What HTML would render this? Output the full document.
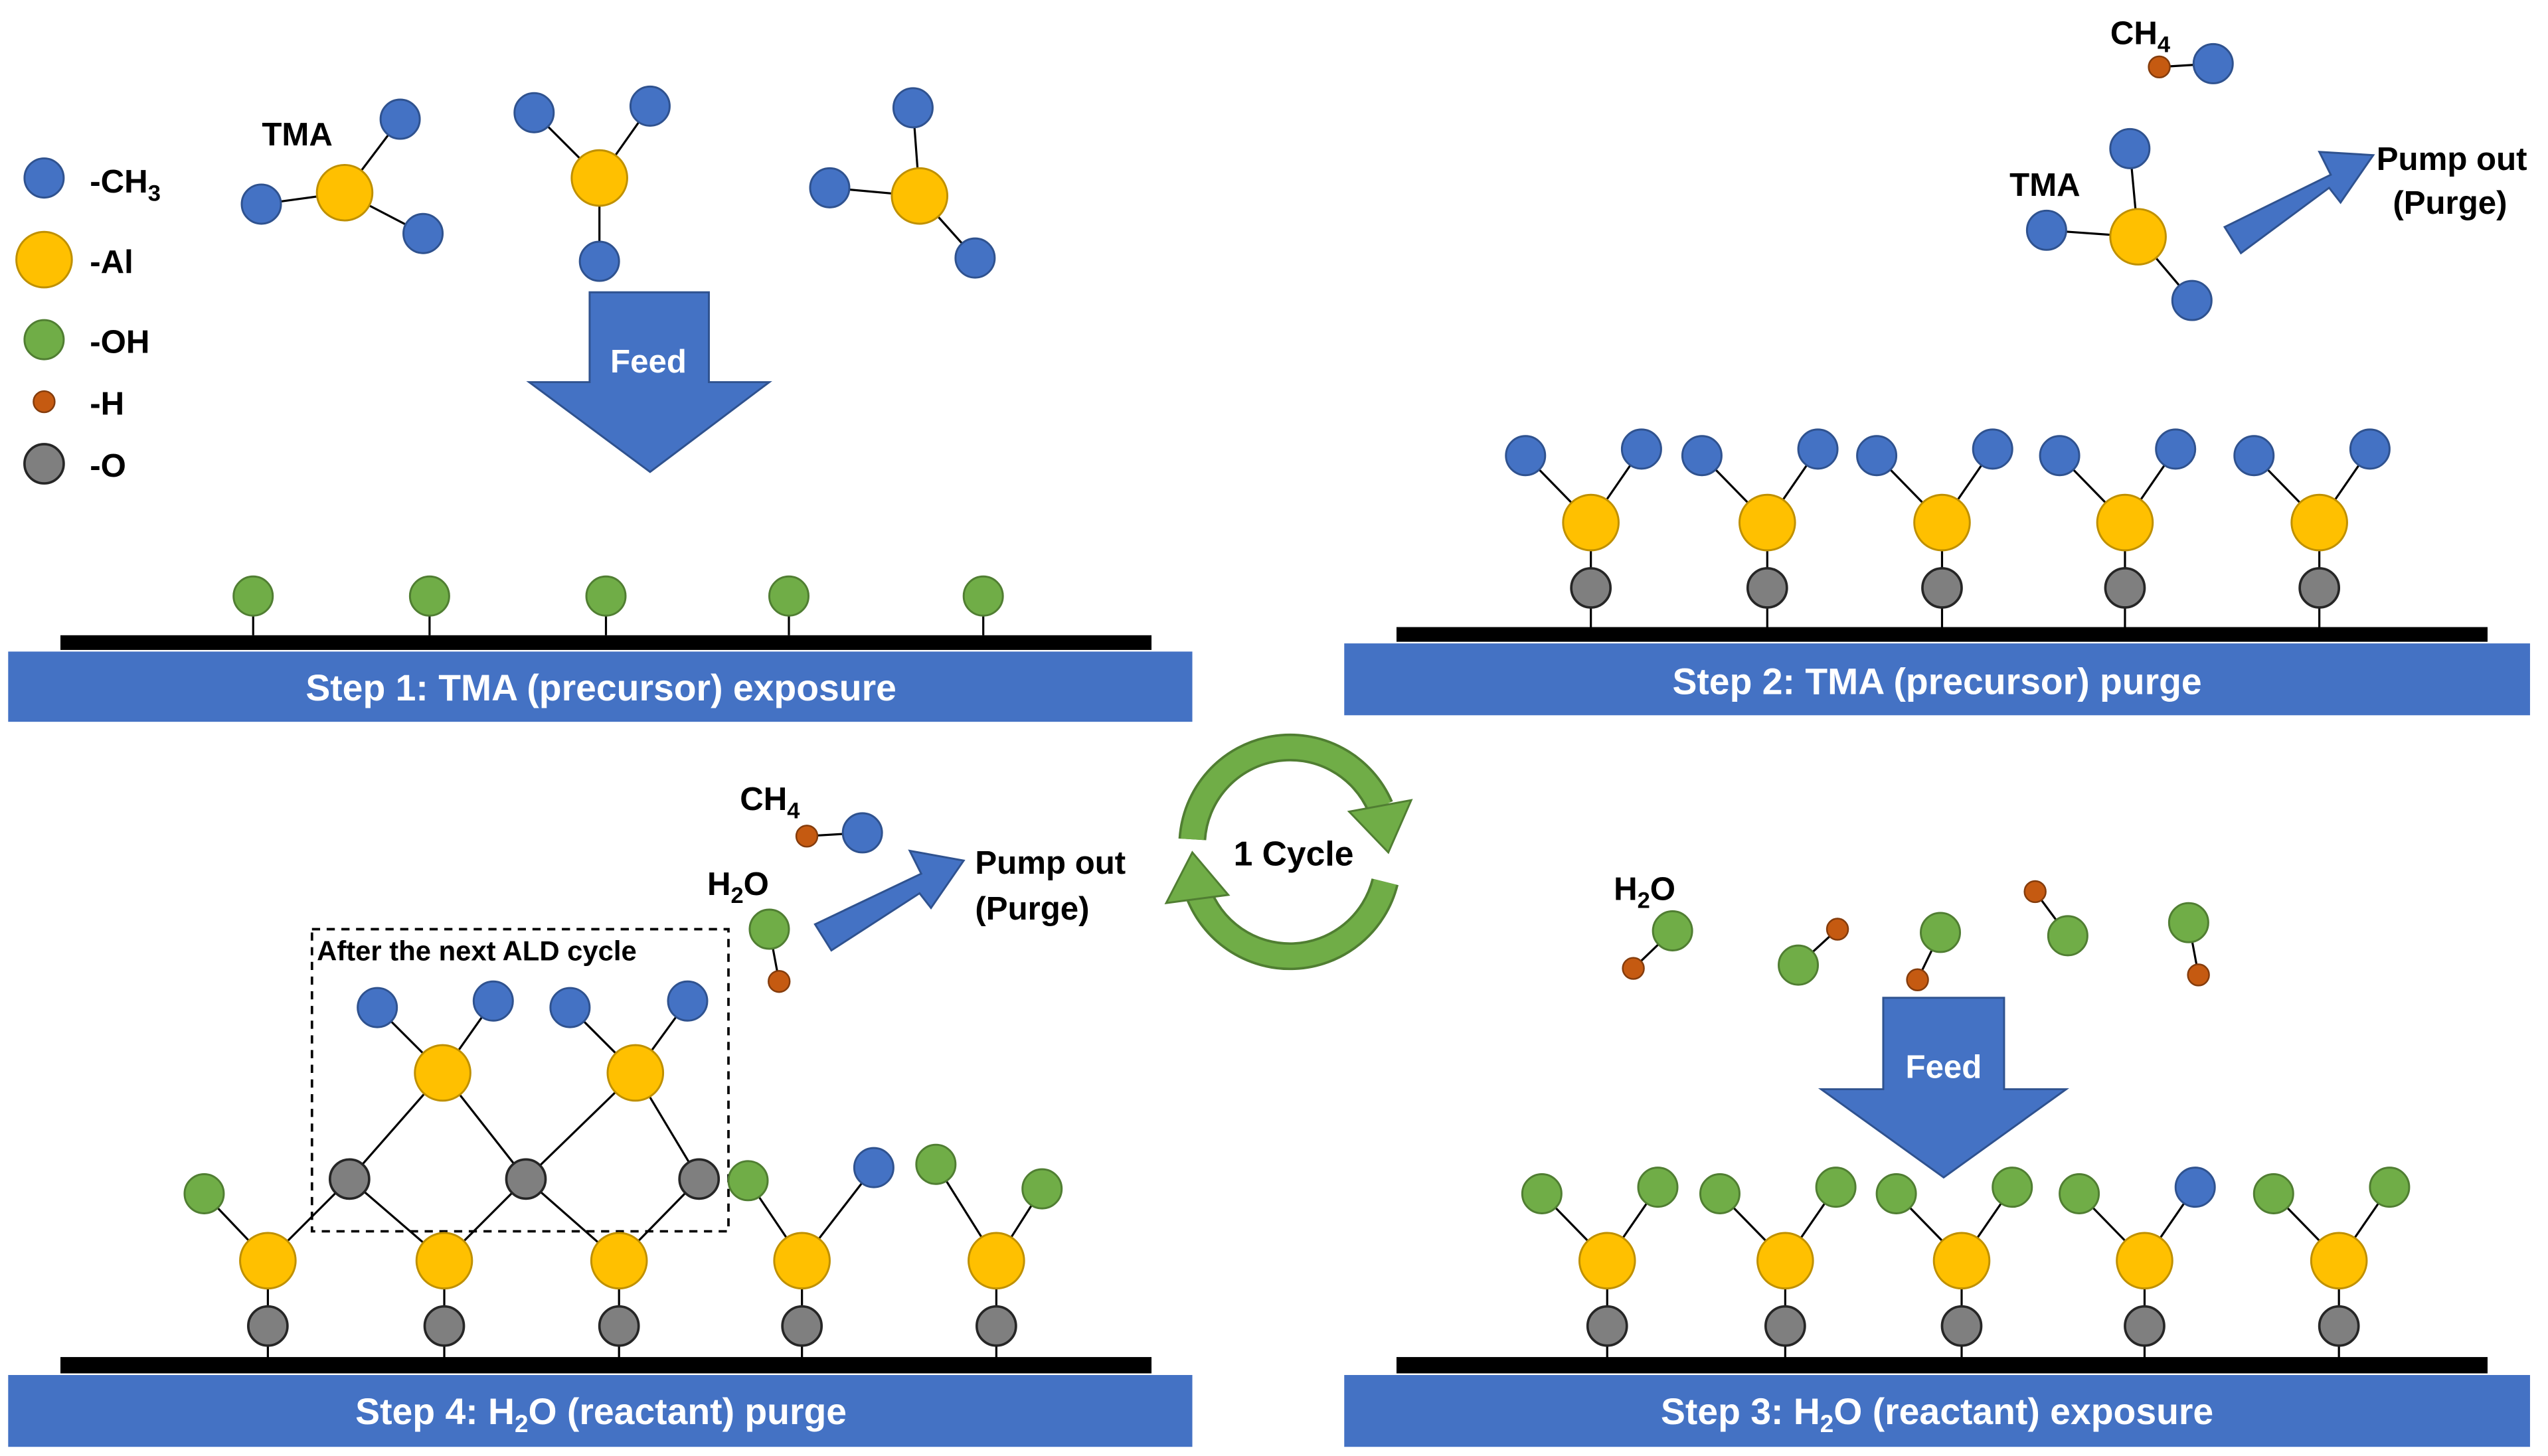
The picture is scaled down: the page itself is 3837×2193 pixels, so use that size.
<!DOCTYPE html>
<html><head><meta charset="utf-8"><style>
html,body{margin:0;padding:0;background:#fff;}
svg{display:block;}
text{font-family:"Liberation Sans",Arial,sans-serif;font-weight:bold;}
</style></head><body>
<svg width="3837" height="2193" viewBox="0 0 1560 891.6" preserveAspectRatio="none" xmlns="http://www.w3.org/2000/svg">
<defs>
<g id="b"><circle r="12" fill="#4472C4" stroke="#2F528F" stroke-width="1.2"/></g>
<g id="y"><circle r="17" fill="#FFC000" stroke="#BF9000" stroke-width="1.2"/></g>
<g id="g"><circle r="12" fill="#70AD47" stroke="#507E32" stroke-width="1.2"/></g>
<g id="o"><circle r="6.5" fill="#C55A11" stroke="#843C0C" stroke-width="1"/></g>
<g id="k"><circle r="12" fill="#7F7F7F" stroke="#262626" stroke-width="1.5"/></g>
</defs>
<rect width="1560" height="892" fill="#fff"/>
<use href="#b" x="27" y="109"/><text x="55" y="118" font-size="20">-CH<tspan font-size="14" dy="5">3</tspan></text>
<use href="#y" x="27" y="159"/><text x="55" y="167" font-size="20">-Al</text>
<use href="#g" x="27" y="208"/><text x="55" y="216" font-size="20">-OH</text>
<use href="#o" x="27" y="246"/><text x="55" y="254" font-size="20">-H</text>
<use href="#k" x="27" y="284"/><text x="55" y="292" font-size="20">-O</text>

<!-- Step1 -->
<rect x="37" y="389" width="668" height="9" fill="#000"/>
<rect x="5" y="399" width="725" height="43" fill="#4472C4"/>
<text x="368" y="429" font-size="22.5" fill="#fff" text-anchor="middle">Step 1: TMA (precursor) exposure</text>
<g stroke="#000" stroke-width="1.3">
<line x1="155" y1="365" x2="155" y2="389"/><line x1="263" y1="365" x2="263" y2="389"/><line x1="371" y1="365" x2="371" y2="389"/><line x1="483" y1="365" x2="483" y2="389"/><line x1="602" y1="365" x2="602" y2="389"/>
<line x1="211" y1="118" x2="245" y2="73"/><line x1="211" y1="118" x2="160" y2="125"/><line x1="211" y1="118" x2="259" y2="143"/>
<line x1="367" y1="109" x2="327" y2="69"/><line x1="367" y1="109" x2="398" y2="65"/><line x1="367" y1="109" x2="367" y2="160"/>
<line x1="563" y1="120" x2="559" y2="66"/><line x1="563" y1="120" x2="508" y2="115"/><line x1="563" y1="120" x2="597" y2="158"/>
</g>
<use href="#g" x="155" y="365"/><use href="#g" x="263" y="365"/><use href="#g" x="371" y="365"/><use href="#g" x="483" y="365"/><use href="#g" x="602" y="365"/>
<use href="#b" x="245" y="73"/><use href="#b" x="160" y="125"/><use href="#b" x="259" y="143"/><use href="#y" x="211" y="118"/>
<use href="#b" x="327" y="69"/><use href="#b" x="398" y="65"/><use href="#b" x="367" y="160"/><use href="#y" x="367" y="109"/>
<use href="#b" x="559" y="66"/><use href="#b" x="508" y="115"/><use href="#b" x="597" y="158"/><use href="#y" x="563" y="120"/>
<text x="182" y="89" font-size="20" text-anchor="middle">TMA</text>
<polygon points="361,179 434,179 434,234 471,234 398,289 324,234 361,234" fill="#4472C4" stroke="#2F528F" stroke-width="1.2"/>
<text x="397" y="228" font-size="20" fill="#fff" text-anchor="middle">Feed</text>

<!-- Step2 -->
<rect x="855" y="384" width="668" height="9" fill="#000"/>
<rect x="823" y="394" width="726" height="44" fill="#4472C4"/>
<text x="1186" y="425" font-size="22.5" fill="#fff" text-anchor="middle">Step 2: TMA (precursor) purge</text>
<g stroke="#000" stroke-width="1.3">
<line x1="974" y1="360" x2="974" y2="384"/><line x1="974" y1="360" x2="974" y2="320"/><line x1="974" y1="320" x2="934" y2="279"/><line x1="974" y1="320" x2="1005" y2="275"/>
<line x1="1082" y1="360" x2="1082" y2="384"/><line x1="1082" y1="360" x2="1082" y2="320"/><line x1="1082" y1="320" x2="1042" y2="279"/><line x1="1082" y1="320" x2="1113" y2="275"/>
<line x1="1189" y1="360" x2="1189" y2="384"/><line x1="1189" y1="360" x2="1189" y2="320"/><line x1="1189" y1="320" x2="1149" y2="279"/><line x1="1189" y1="320" x2="1220" y2="275"/>
<line x1="1301" y1="360" x2="1301" y2="384"/><line x1="1301" y1="360" x2="1301" y2="320"/><line x1="1301" y1="320" x2="1261" y2="279"/><line x1="1301" y1="320" x2="1332" y2="275"/>
<line x1="1420" y1="360" x2="1420" y2="384"/><line x1="1420" y1="360" x2="1420" y2="320"/><line x1="1420" y1="320" x2="1380" y2="279"/><line x1="1420" y1="320" x2="1451" y2="275"/>
<line x1="1322" y1="41" x2="1355" y2="39"/>
<line x1="1309" y1="145" x2="1304" y2="91"/><line x1="1309" y1="145" x2="1253" y2="141"/><line x1="1309" y1="145" x2="1342" y2="184"/>
</g>
<use href="#k" x="974" y="360"/><use href="#y" x="974" y="320"/><use href="#b" x="934" y="279"/><use href="#b" x="1005" y="275"/>
<use href="#k" x="1082" y="360"/><use href="#y" x="1082" y="320"/><use href="#b" x="1042" y="279"/><use href="#b" x="1113" y="275"/>
<use href="#k" x="1189" y="360"/><use href="#y" x="1189" y="320"/><use href="#b" x="1149" y="279"/><use href="#b" x="1220" y="275"/>
<use href="#k" x="1301" y="360"/><use href="#y" x="1301" y="320"/><use href="#b" x="1261" y="279"/><use href="#b" x="1332" y="275"/>
<use href="#k" x="1420" y="360"/><use href="#y" x="1420" y="320"/><use href="#b" x="1380" y="279"/><use href="#b" x="1451" y="275"/>
<use href="#o" x="1322" y="41"/><use href="#b" x="1355" y="39"/>
<text x="1292" y="27" font-size="20">CH<tspan font-size="14" dy="5">4</tspan></text>
<use href="#b" x="1304" y="91"/><use href="#b" x="1253" y="141"/><use href="#b" x="1342" y="184"/><use href="#y" x="1309" y="145"/>
<text x="1252" y="120" font-size="20" text-anchor="middle">TMA</text>
<polygon points="1362,139 1427,107 1420,93 1453,95 1433,124 1426,115 1372,155" fill="#4472C4" stroke="#2F528F" stroke-width="1.2"/>
<text x="1455" y="104" font-size="20">Pump out</text>
<text x="1465" y="131" font-size="20">(Purge)</text>

<!-- Cycle -->
<g fill="none" stroke-linecap="butt">
<path d="M730,514 A60,60 0 0 1 845,494" stroke="#507E32" stroke-width="17"/>
<path d="M730,514 A60,60 0 0 1 845,494" stroke="#70AD47" stroke-width="14"/>
<path d="M848,540 A60,60 0 0 1 733,545" stroke="#507E32" stroke-width="17"/>
<path d="M848,540 A60,60 0 0 1 733,545" stroke="#70AD47" stroke-width="14"/>
</g>
<polygon points="826,497 864,490 850,522" fill="#70AD47" stroke="#507E32" stroke-width="1.2"/>
<polygon points="752,548 714,553 730,522" fill="#70AD47" stroke="#507E32" stroke-width="1.2"/>
<text x="792" y="530" font-size="21" text-anchor="middle">1 Cycle</text>

<!-- Step4 -->
<rect x="37" y="831" width="668" height="10" fill="#000"/>
<rect x="5" y="842" width="725" height="44" fill="#4472C4"/>
<text x="368" y="872" font-size="22.5" fill="#fff" text-anchor="middle">Step 4: H<tspan font-size="15" dy="5">2</tspan><tspan dy="-5">O (reactant) purge</tspan></text>
<g stroke="#000" stroke-width="1.3">
<line x1="164" y1="772" x2="164" y2="831"/><line x1="272" y1="772" x2="272" y2="831"/><line x1="379" y1="772" x2="379" y2="831"/><line x1="491" y1="772" x2="491" y2="831"/><line x1="610" y1="772" x2="610" y2="831"/>
<line x1="164" y1="772" x2="125" y2="731"/><line x1="164" y1="772" x2="214" y2="722"/>
<line x1="272" y1="772" x2="214" y2="722"/><line x1="272" y1="772" x2="322" y2="722"/>
<line x1="379" y1="772" x2="322" y2="722"/><line x1="379" y1="772" x2="428" y2="722"/>
<line x1="491" y1="772" x2="458" y2="723"/><line x1="491" y1="772" x2="535" y2="715"/>
<line x1="610" y1="772" x2="573" y2="713"/><line x1="610" y1="772" x2="638" y2="728"/>
<line x1="271" y1="657" x2="214" y2="722"/><line x1="271" y1="657" x2="322" y2="722"/>
<line x1="389" y1="657" x2="322" y2="722"/><line x1="389" y1="657" x2="428" y2="722"/>
<line x1="271" y1="657" x2="231" y2="617"/><line x1="271" y1="657" x2="302" y2="613"/>
<line x1="389" y1="657" x2="349" y2="617"/><line x1="389" y1="657" x2="421" y2="613"/>
<line x1="494" y1="512" x2="528" y2="510"/><line x1="471" y1="569" x2="477" y2="601"/>
</g>
<rect x="191" y="569" width="255" height="185" fill="none" stroke="#000" stroke-width="1.5" stroke-dasharray="5,4"/>
<text x="194" y="588" font-size="17">After the next ALD cycle</text>
<use href="#k" x="164" y="812"/><use href="#k" x="272" y="812"/><use href="#k" x="379" y="812"/><use href="#k" x="491" y="812"/><use href="#k" x="610" y="812"/>
<use href="#g" x="125" y="731"/><use href="#g" x="458" y="723"/><use href="#b" x="535" y="715"/><use href="#g" x="573" y="713"/><use href="#g" x="638" y="728"/>
<use href="#k" x="214" y="722"/><use href="#k" x="322" y="722"/><use href="#k" x="428" y="722"/>
<use href="#y" x="164" y="772"/><use href="#y" x="272" y="772"/><use href="#y" x="379" y="772"/><use href="#y" x="491" y="772"/><use href="#y" x="610" y="772"/>
<use href="#b" x="231" y="617"/><use href="#b" x="302" y="613"/><use href="#b" x="349" y="617"/><use href="#b" x="421" y="613"/>
<use href="#y" x="271" y="657"/><use href="#y" x="389" y="657"/>
<use href="#o" x="494" y="512"/><use href="#b" x="528" y="510"/>
<text x="453" y="496" font-size="20">CH<tspan font-size="14" dy="5">4</tspan></text>
<use href="#g" x="471" y="569"/><use href="#o" x="477" y="601"/>
<text x="433" y="548" font-size="20">H<tspan font-size="14" dy="5">2</tspan><tspan dy="-5">O</tspan></text>
<polygon points="499,566 564,535 557,521 590,527 570,556 563,547 509,582" fill="#4472C4" stroke="#2F528F" stroke-width="1.2"/>
<text x="597" y="535" font-size="20">Pump out</text>
<text x="597" y="563" font-size="20">(Purge)</text>

<!-- Step3 -->
<rect x="855" y="831" width="668" height="10" fill="#000"/>
<rect x="823" y="842" width="726" height="44" fill="#4472C4"/>
<text x="1186" y="872" font-size="22.5" fill="#fff" text-anchor="middle">Step 3: H<tspan font-size="15" dy="5">2</tspan><tspan dy="-5">O (reactant) exposure</tspan></text>
<g stroke="#000" stroke-width="1.3">
<line x1="984" y1="772" x2="984" y2="831"/><line x1="984" y1="772" x2="944" y2="731"/><line x1="984" y1="772" x2="1015" y2="727"/>
<line x1="1093" y1="772" x2="1093" y2="831"/><line x1="1093" y1="772" x2="1053" y2="731"/><line x1="1093" y1="772" x2="1124" y2="727"/>
<line x1="1201" y1="772" x2="1201" y2="831"/><line x1="1201" y1="772" x2="1161" y2="731"/><line x1="1201" y1="772" x2="1232" y2="727"/>
<line x1="1313" y1="772" x2="1313" y2="831"/><line x1="1313" y1="772" x2="1273" y2="731"/><line x1="1313" y1="772" x2="1344" y2="727"/>
<line x1="1432" y1="772" x2="1432" y2="831"/><line x1="1432" y1="772" x2="1392" y2="731"/><line x1="1432" y1="772" x2="1463" y2="727"/>
<line x1="1024" y1="570" x2="1000" y2="593"/><line x1="1101" y1="591" x2="1125" y2="569"/><line x1="1188" y1="571" x2="1174" y2="600"/><line x1="1266" y1="573" x2="1246" y2="546"/><line x1="1340" y1="565" x2="1346" y2="597"/>
</g>
<use href="#k" x="984" y="812"/><use href="#y" x="984" y="772"/><use href="#g" x="944" y="731"/><use href="#g" x="1015" y="727"/>
<use href="#k" x="1093" y="812"/><use href="#y" x="1093" y="772"/><use href="#g" x="1053" y="731"/><use href="#g" x="1124" y="727"/>
<use href="#k" x="1201" y="812"/><use href="#y" x="1201" y="772"/><use href="#g" x="1161" y="731"/><use href="#g" x="1232" y="727"/>
<use href="#k" x="1313" y="812"/><use href="#y" x="1313" y="772"/><use href="#g" x="1273" y="731"/><use href="#b" x="1344" y="727"/>
<use href="#k" x="1432" y="812"/><use href="#y" x="1432" y="772"/><use href="#g" x="1392" y="731"/><use href="#g" x="1463" y="727"/>
<use href="#g" x="1024" y="570"/><use href="#o" x="1000" y="593"/>
<use href="#g" x="1101" y="591"/><use href="#o" x="1125" y="569"/>
<use href="#g" x="1188" y="571"/><use href="#o" x="1174" y="600"/>
<use href="#g" x="1266" y="573"/><use href="#o" x="1246" y="546"/>
<use href="#g" x="1340" y="565"/><use href="#o" x="1346" y="597"/>
<text x="988" y="551" font-size="20">H<tspan font-size="14" dy="5">2</tspan><tspan dy="-5">O</tspan></text>
<polygon points="1153,611 1227,611 1227,667 1265,667 1190,721 1115,667 1153,667" fill="#4472C4" stroke="#2F528F" stroke-width="1.2"/>
<text x="1190" y="660" font-size="20" fill="#fff" text-anchor="middle">Feed</text>
</svg>
</body></html>
